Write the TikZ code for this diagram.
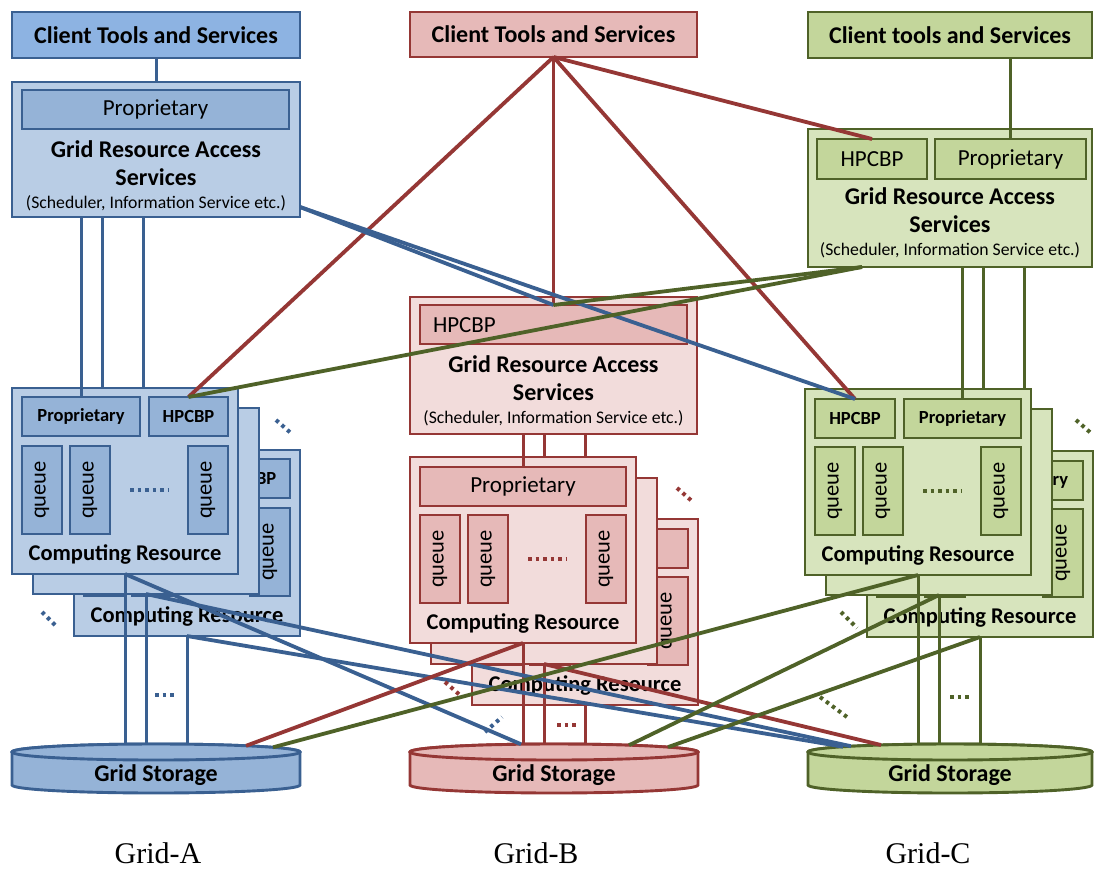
\documentclass[tikz,border=0pt]{standalone}
\usepackage{fontspec}
\setmainfont{Carlito}
\newfontfamily\gridserif{Liberation Serif}
\usetikzlibrary{calc}
\pgfdeclarelayer{behind}
\pgfsetlayers{behind,main}

% border / client / panel / inner-box / storage colours per grid
\definecolor{bdA}{HTML}{3A6091}
\definecolor{clA}{HTML}{8DB3E2}
\definecolor{pnA}{HTML}{B9CDE5}
\definecolor{inA}{HTML}{95B3D7}
\definecolor{bdB}{HTML}{953735}
\definecolor{clB}{HTML}{E6B9B8}
\definecolor{pnB}{HTML}{F2DCDB}
\definecolor{inB}{HTML}{E6B9B8}
\definecolor{bdC}{HTML}{4F6228}
\definecolor{clC}{HTML}{C3D69B}
\definecolor{pnC}{HTML}{D7E4BD}
\definecolor{inC}{HTML}{C3D69B}

\newcommand\fClient{\fontsize{24}{28}\selectfont\bfseries}
\newcommand\fHead{\fontsize{24}{28}\selectfont\bfseries}
\newcommand\fTag{\fontsize{23}{28}\selectfont}
\newcommand\fNote{\fontsize{17.7}{20}\selectfont}
\newcommand\fCR{\fontsize{22.5}{26}\selectfont\bfseries}
\newcommand\fCRtag{\fontsize{18.5}{22}\selectfont\bfseries}
\newcommand\fQueue{\fontsize{22.5}{26}\selectfont}
\newcommand\fStore{\fontsize{24}{28}\selectfont\bfseries}
\newcommand\fGrid{\gridserif\fontsize{30}{34}\selectfont}

\tikzset{
  cell/.style={inner sep=0pt, outer sep=0pt, line width=2.9pt, anchor=north west},
  client/.style={cell, draw=bd#1, fill=cl#1, font=\fClient},
  panel/.style={cell, draw=bd#1, fill=pn#1},
  tagbox/.style={cell, draw=bd#1, fill=in#1},
  txt/.style={inner sep=0pt, outer sep=0pt, anchor=base},
  qtext/.style={inner sep=0pt, outer sep=0pt, rotate=90, font=\fQueue},
  wire/.style={draw=bd#1, line width=3.8pt},
  riser/.style={draw=bd#1, line width=3pt},
  dotrun/.style={draw=bd#1, line width=4pt, dash pattern=on 3.5pt off 4pt},
  store/.style={draw=bd#1, fill=in#1, line width=2.9pt},
}

% one computing-resource card: name, left x, top y, grid letter
\newcommand\crcard[4]{%
  \node[panel=#4, minimum width=226, minimum height=186] (#1) at (#2,#3) {};
  \node[tagbox=#4, minimum width=40, minimum height=88] (#1-q1) at (#2+10,#3+58) {};
  \node[tagbox=#4, minimum width=40, minimum height=88] (#1-q2) at (#2+58,#3+58) {};
  \node[tagbox=#4, minimum width=40, minimum height=88] (#1-q3) at (#2+176,#3+58) {};
  \node[qtext] (#1-q1t) at (#1-q1.center) {queue};
  \node[qtext] (#1-q2t) at (#1-q2.center) {queue};
  \node[qtext] (#1-q3t) at (#1-q3.center) {queue};
  \draw[dotrun=#4] (#2+118,#3+102) -- (#2+156,#3+102);
  \node[txt, font=\fCR] (#1-lbl) at (#2+113,#3+172) {Computing Resource};
}

\begin{document}
\begin{tikzpicture}[x=1pt, y=-1pt]
\useasboundingbox (0,0) rectangle (1094,870);

% ---------- client tools ----------
\node[client=A, minimum width=288, minimum height=46] (cA) at (12,12) {Client Tools and Services};
\node[client=B, minimum width=287, minimum height=45] (cB) at (410,12) {Client Tools and Services};
\node[client=C, minimum width=284, minimum height=46] (cC) at (808,12) {Client tools and Services};

% ---------- grid resource access services ----------
\node[panel=A, minimum width=288, minimum height=135] (gA) at (12,82) {};
\node[tagbox=A, minimum width=267, minimum height=39, font=\fTag] (gA-pr) at (22,90) {Proprietary};
\node[txt, font=\fHead] (gA-t1) at (156,157) {Grid Resource Access};
\node[txt, font=\fHead] (gA-t2) at (156,185) {Services};
\node[txt, font=\fNote] (gA-t3) at (156,208) {(Scheduler, Information Service etc.)};

\node[panel=B, minimum width=287, minimum height=137] (gB) at (410,297) {};
\node[tagbox=B, minimum width=267, minimum height=39] (gB-hp) at (420,305) {};
\node[txt, anchor=base west, font=\fTag] (gB-hpt) at (433,332) {HPCBP};
\node[txt, font=\fHead] (gB-t1) at (553.5,372) {Grid Resource Access};
\node[txt, font=\fHead] (gB-t2) at (553.5,400) {Services};
\node[txt, font=\fNote] (gB-t3) at (553.5,423) {(Scheduler, Information Service etc.)};

\node[panel=C, minimum width=284, minimum height=138] (gC) at (808,129) {};
\node[tagbox=C, minimum width=110, minimum height=40, font=\fTag] (gC-hp) at (817,139) {HPCBP};
\node[tagbox=C, minimum width=151, minimum height=40, font=\fTag] (gC-pr) at (935,139) {Proprietary};
\node[txt, font=\fHead] (gC-t1) at (950,204) {Grid Resource Access};
\node[txt, font=\fHead] (gC-t2) at (950,232) {Services};
\node[txt, font=\fNote] (gC-t3) at (950,255) {(Scheduler, Information Service etc.)};

% ---------- computing resource stacks (back, middle, front) ----------
% Grid-A
\crcard{bA}{74}{450}{A}
\node[tagbox=A, minimum width=118, minimum height=39, font=\fCRtag] (bA-pr) at ($(bA.north west)+(10,9)$) {Proprietary};
\node[tagbox=A, minimum width=79, minimum height=39, font=\fCRtag] (bA-hp) at ($(bA.north west)+(137,9)$) {HPCBP};
\node[panel=A, minimum width=226, minimum height=186] (mA) at (33,408) {};
\coordinate (mA-port) at ($(mA.north west)+(69,9)$);
\crcard{fA}{12}{388}{A}
\node[tagbox=A, minimum width=118, minimum height=39, font=\fCRtag] (fA-pr) at ($(fA.north west)+(10,9)$) {Proprietary};
\node[tagbox=A, minimum width=79, minimum height=39, font=\fCRtag] (fA-hp) at ($(fA.north west)+(137,9)$) {HPCBP};

% Grid-B
\crcard{bB}{472}{519}{B}
\node[tagbox=B, minimum width=206, minimum height=39, font=\fTag] (bB-pr) at ($(bB.north west)+(10,10)$) {Proprietary};
\node[panel=B, minimum width=226, minimum height=186] (mB) at (431,478) {};
\coordinate (mB-port) at ($(mB.north west)+(113,10)$);
\crcard{fB}{410}{457}{B}
\node[tagbox=B, minimum width=206, minimum height=39, font=\fTag] (fB-pr) at ($(fB.north west)+(10,10)$) {Proprietary};

% Grid-C
\crcard{bC}{867}{451}{C}
\node[tagbox=C, minimum width=80, minimum height=39, font=\fCRtag] (bC-hp) at ($(bC.north west)+(10,10)$) {HPCBP};
\node[tagbox=C, minimum width=117, minimum height=39, font=\fCRtag] (bC-pr) at ($(bC.north west)+(99,10)$) {Proprietary};
\node[panel=C, minimum width=226, minimum height=186] (mC) at (826,409) {};
\coordinate (mC-port) at ($(mC.north west)+(157.5,10)$);
\crcard{fC}{805}{389}{C}
\node[tagbox=C, minimum width=80, minimum height=39, font=\fCRtag] (fC-hp) at ($(fC.north west)+(10,10)$) {HPCBP};
\node[tagbox=C, minimum width=117, minimum height=39, font=\fCRtag] (fC-pr) at ($(fC.north west)+(99,10)$) {Proprietary};

% ---------- grid storage cylinders ----------
\path[store=A] (12,752) -- (12,785) arc[start angle=180, end angle=0, x radius=144, y radius=8]
  -- (300,752) arc[start angle=0, end angle=-180, x radius=144, y radius=8] -- cycle;
\draw[store=A] (156,752) ellipse[x radius=144, y radius=8];
\coordinate (sA-c) at (156,752);
\coordinate (sA-top) at (156,744);
\node[txt, font=\fStore] (sA) at (156,781) {Grid Storage};

\path[store=B] (410,752) -- (410,785) arc[start angle=180, end angle=0, x radius=144, y radius=8]
  -- (698,752) arc[start angle=0, end angle=-180, x radius=144, y radius=8] -- cycle;
\draw[store=B] (554,752) ellipse[x radius=144, y radius=8];
\coordinate (sB-c) at (554,752);
\coordinate (sB-top) at (554,744);
\node[txt, font=\fStore] (sB) at (554,781) {Grid Storage};

\path[store=C] (808,752) -- (808,785) arc[start angle=180, end angle=0, x radius=142, y radius=8]
  -- (1092,752) arc[start angle=0, end angle=-180, x radius=142, y radius=8] -- cycle;
\draw[store=C] (950,752) ellipse[x radius=142, y radius=8];
\coordinate (sC-c) at (950,752);
\coordinate (sC-top) at (950,744);
\node[txt, font=\fStore] (sC) at (950,781) {Grid Storage};

% ---------- grid names ----------
\node[txt, font=\fGrid] (nA) at (158,863) {Grid-A};
\node[txt, font=\fGrid] (nB) at (536,863) {Grid-B};
\node[txt, font=\fGrid] (nC) at (928,863) {Grid-C};

% ---------- risers hidden behind the front cards ----------
\begin{pgfonlayer}{behind}
\draw[riser=A] (gA.south -| mA-port) -- (mA-port);
\draw[riser=A] (gA.south -| bA-pr.north) -- (bA-pr.north);
\draw[riser=B] (gB.south -| mB-port) -- (mB-port);
\draw[riser=B] (gB.south -| bB-pr.north) -- (bB-pr.north);
\draw[riser=C] (gC.south -| mC-port) -- (mC-port);
\draw[riser=C] (gC.south -| bC-pr.north) -- (bC-pr.north);
\end{pgfonlayer}

% ---------- in-grid connections ----------
\draw[riser=A] (cA.south) -- (gA.north);
\draw[riser=A] (gA.south -| fA-pr.north) -- (fA-pr.north);
\draw[riser=B] (gB.south -| fB-pr.north) -- (fB-pr.north);
\draw[riser=C] (gC-pr.north |- cC.south) -- (gC-pr.north);
\draw[riser=C] (gC.south -| fC-pr.north) -- (fC-pr.north);

\draw[riser=A] (fA.south) -- (fA.south |- sA-top);
\draw[riser=A] (mA.south) -- (mA.south |- sA-top);
\draw[riser=A] (bA.south) -- (bA.south |- sA-top);
\draw[riser=B] (fB.south) -- (fB.south |- sB-top);
\draw[riser=B] (mB.south) -- (mB.south |- sB-top);
\draw[riser=B] (bB.south) -- (bB.south |- sB-top);
\draw[riser=C] (fC.south) -- (fC.south |- sC-top);
\draw[riser=C] (mC.south) -- (mC.south |- sC-top);
\draw[riser=C] (bC.south) -- (bC.south |- sC-top);

% ---------- cross-grid connections ----------
\coordinate (gA-port) at ($(gA.south east)+(0,-10)$);
\coordinate (gC-port) at ($(gC.south west)+(54,0)$);

\draw[wire=B] (cB.south) -- (gB-hp.north);
\draw[wire=B] (cB.south) -- (fA-hp.north);
\draw[wire=B] (cB.south) -- (fC-hp.north);
\draw[wire=B] (cB.south) -- (gC-hp.north);

\draw[wire=A] (gA-port) -- (gB-hp.north);
\draw[wire=A] (gA-port) -- (fC-hp.north);

\draw[wire=C] (gC-port) -- (gB-hp.north);
\draw[wire=C] (gC-port) -- (fA-hp.north);

\draw[wire=A] (fA.south) -- ($(sB-c)+(-33,-7.8)$);
\draw[wire=A] (mA.south) -- ($(sC-c)+(-99,-5.8)$);
\draw[wire=A] (bA.south) -- ($(sC-c)+(-107,-5.3)$);

\draw[wire=B] (fB.south) -- ($(sA-c)+(90,-6.2)$);
\draw[wire=B] (mB.south) -- ($(sC-c)+(-69,-7)$);

\draw[wire=C] (fC.south) -- ($(sA-c)+(117,-4.7)$);
\draw[wire=C] (mC.south) -- ($(sB-c)+(75,-6.8)$);
\draw[wire=C] (bC.south) -- ($(sB-c)+(114,-4.9)$);

% ---------- ellipsis marks ----------
\draw[dotrun=A] (276,420) -- (292,434);
\draw[dotrun=A] (42,612) -- (57,627);
\draw[dotrun=A] (485,732) -- (502,717);
\draw[dotrun=A] (155,695) -- (176,695);

\draw[dotrun=B] (677,488) -- (693,502);
\draw[dotrun=B] (445,682) -- (461,696);
\draw[dotrun=B] (557,725) -- (578,725);

\draw[dotrun=C] (1076,420) -- (1092,434);
\draw[dotrun=C] (841,612) -- (857,628);
\draw[dotrun=C] (820,697) -- (847,717);
\draw[dotrun=C] (950,697) -- (971,697);
\end{tikzpicture}
\end{document}
